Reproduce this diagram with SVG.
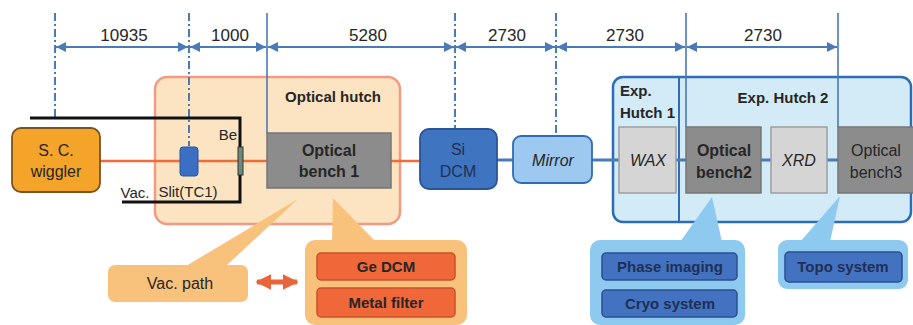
<svg xmlns="http://www.w3.org/2000/svg" width="913" height="325" viewBox="0 0 913 325">
<defs>
<style>
text{font-family:"Liberation Sans",Arial,sans-serif;fill:#262626;text-anchor:middle}
.b{font-weight:bold}
.i{font-style:italic}
.dim{stroke:#4a7ab8;stroke-width:2;fill:none;marker-start:url(#ah);marker-end:url(#ah)}
.dd{stroke:#4a7ab8;stroke-width:2;stroke-dasharray:8 3 2 3;fill:none}
.sl{stroke:#4a7ab8;stroke-width:1.6;fill:none}
.gray{fill:#8c8c8c;stroke:#757575;stroke-width:1.5}
.lgray{fill:#d5d5d5;stroke:#9e9e9e;stroke-width:1.5}
.co{fill:#f8c27c}
.cb{fill:#8ec9f0}
.ob{fill:#f0683a;stroke:#c9502a;stroke-width:1.5}
.bb{fill:#4373c0;stroke:#2b4f8f;stroke-width:1.5}
.nav{fill:#1f2f55}
</style>
<marker id="ah" viewBox="0 0 10 10" refX="10" refY="5" markerWidth="5" markerHeight="5" orient="auto-start-reverse" markerUnits="strokeWidth">
<path d="M0,0 L10,5 L0,10 z" fill="#4a7ab8"/>
</marker>
<marker id="oh" viewBox="0 0 10 10" refX="9" refY="5" markerWidth="3.2" markerHeight="3.2" orient="auto-start-reverse" markerUnits="strokeWidth">
<path d="M0,0 L10,5 L0,10 z" fill="#e8643a"/>
</marker>
</defs>

<g id="optical-hutch">
<rect x="155" y="77" width="245" height="147" rx="12" fill="#fce4c2" stroke="#f29a84" stroke-width="2.5"/>
<text x="333" y="102" class="b" font-size="15">Optical hutch</text>
</g>

<g id="exp-hutch">
<rect x="613" y="77" width="298" height="145" rx="10" fill="#d3ebf7" stroke="#2e6db4" stroke-width="2.5"/>
<line x1="679" y1="77" x2="679" y2="222" stroke="#2e6db4" stroke-width="2"/>
<text x="620" y="96" class="b" font-size="15" style="text-anchor:start">Exp.</text>
<text x="620" y="118" class="b" font-size="15" style="text-anchor:start">Hutch 1</text>
<text x="783" y="103" class="b" font-size="15">Exp. Hutch 2</text>
</g>

<g id="connectors">
<line class="dd" x1="55" y1="13" x2="55" y2="118"/>
<line class="dd" x1="189" y1="13" x2="189" y2="146"/>
<line class="sl" x1="267" y1="13" x2="267" y2="133"/>
<line class="dd" x1="455" y1="13" x2="455" y2="129"/>
<line class="dd" x1="556" y1="13" x2="556" y2="136"/>
<line class="sl" x1="686" y1="13" x2="686" y2="127"/>
<line class="sl" x1="838" y1="13" x2="838" y2="127"/>
<line class="dim" x1="56" y1="47" x2="188" y2="47"/>
<line class="dim" x1="190" y1="47" x2="266" y2="47"/>
<line class="dim" x1="268" y1="47" x2="454" y2="47"/>
<line class="dim" x1="456" y1="47" x2="555" y2="47"/>
<line class="dim" x1="557" y1="47" x2="685" y2="47"/>
<line class="dim" x1="687" y1="47" x2="837" y2="47"/>
<polyline points="30,118 240,118 240,202 122,202" fill="none" stroke="#111" stroke-width="3"/>
<line x1="100" y1="161" x2="421" y2="161" stroke="#f26b3a" stroke-width="2.5"/>
<line x1="497" y1="160" x2="838" y2="160" stroke="#4a7ab8" stroke-width="3"/>
<line x1="257" y1="282" x2="297" y2="282" stroke="#e8643a" stroke-width="5" marker-start="url(#oh)" marker-end="url(#oh)"/>
</g>

<g id="dim-labels">
<text x="124" y="41" font-size="17">10935</text>
<text x="230" y="41" font-size="17">1000</text>
<text x="368" y="41" font-size="17">5280</text>
<text x="507" y="41" font-size="17">2730</text>
<text x="625" y="41" font-size="17">2730</text>
<text x="763" y="41" font-size="17">2730</text>
</g>

<g id="wiggler">
<rect x="12" y="128" width="88" height="64" rx="9" fill="#f5a42a" stroke="#7a5220" stroke-width="1.8"/>
<text x="56" y="156" font-size="16">S. C.</text>
<text x="56" y="177" font-size="16">wiggler</text>
</g>

<g id="vac-label">
<text x="135" y="198" font-size="15">Vac.</text>
</g>

<g id="slit">
<rect x="180" y="147" width="18" height="29" rx="3" fill="#3a6fc4" stroke="#2b5597" stroke-width="1"/>
<text x="188" y="197" font-size="15">Slit(TC1)</text>
</g>

<g id="be">
<rect x="238" y="147" width="5" height="28" fill="#6f8a7c" stroke="#333" stroke-width="1"/>
<text x="228" y="140" font-size="15">Be</text>
</g>

<g id="optical-bench-1">
<rect class="gray" x="267" y="133" width="124" height="55"/>
<text x="329" y="156" class="b" font-size="16">Optical</text>
<text x="329" y="177" class="b" font-size="16">bench 1</text>
</g>

<g id="si-dcm">
<rect x="420" y="129" width="77" height="60" rx="9" fill="#3f74c0" stroke="#2a5597" stroke-width="1.8"/>
<text x="458" y="155" class="nav" font-size="16">Si</text>
<text x="458" y="177" class="nav" font-size="16">DCM</text>
</g>

<g id="mirror">
<rect x="513" y="136" width="79" height="47" rx="8" fill="#9dc8ef" stroke="#2e6db4" stroke-width="1.8"/>
<text x="553" y="166" class="i" font-size="16">Mirror</text>
</g>

<g id="wax">
<rect class="lgray" x="619" y="127" width="57" height="66"/>
<text x="648" y="166" class="i" font-size="16">WAX</text>
</g>

<g id="optical-bench-2">
<rect class="gray" x="686" y="127" width="75" height="66"/>
<text x="724" y="156" class="b" font-size="16">Optical</text>
<text x="724" y="178" class="b" font-size="16">bench2</text>
</g>

<g id="xrd">
<rect class="lgray" x="771" y="127" width="56" height="66"/>
<text x="799" y="166" class="i" font-size="16">XRD</text>
</g>

<g id="optical-bench-3">
<rect class="gray" x="838" y="127" width="80" height="66"/>
<text x="876" y="156" font-size="16">Optical</text>
<text x="876" y="178" font-size="16">bench3</text>
</g>

<g id="vac-path">
<polygon class="co" points="186,266 298,199 226,266"/>
<rect class="co" x="108" y="265" width="140" height="37" rx="7"/>
<text x="180" y="289" font-size="16">Vac. path</text>
</g>

<g id="ge-callout">
<polygon class="co" points="332,242 333,198 376,242"/>
<rect class="co" x="305" y="240" width="162" height="85" rx="10"/>
<rect class="ob" x="317" y="253" width="138" height="27" rx="4"/>
<text x="386" y="272" class="b" font-size="15">Ge DCM</text>
<rect class="ob" x="317" y="288" width="138" height="29" rx="4"/>
<text x="386" y="308" class="b" font-size="15">Metal filter</text>
</g>

<g id="phase-callout">
<polygon class="cb" points="680,242 712,197 722,242"/>
<rect class="cb" x="590" y="240" width="155" height="85" rx="10"/>
<rect class="bb" x="602" y="253" width="135" height="27" rx="4"/>
<text x="670" y="272" class="b nav" font-size="15">Phase imaging</text>
<rect class="bb" x="602" y="290" width="135" height="27" rx="4"/>
<text x="670" y="309" class="b nav" font-size="15">Cryo system</text>
</g>

<g id="topo-callout">
<polygon class="cb" points="800,242 840,196 830,242"/>
<rect class="cb" x="778" y="240" width="130" height="49" rx="9"/>
<rect class="bb" x="785" y="252" width="117" height="30" rx="4"/>
<text x="843" y="272" class="b nav" font-size="15">Topo system</text>
</g>
</svg>
